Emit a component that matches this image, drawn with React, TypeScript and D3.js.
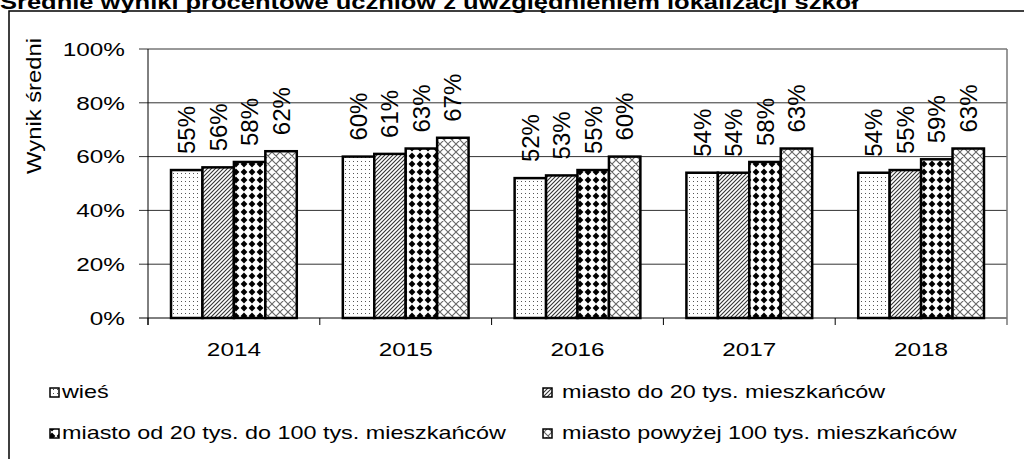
import React from 'react';
import * as d3 from 'd3';

const title = 'Średnie wyniki procentowe uczniów z uwzględnieniem lokalizacji szkół';
const yTitle = 'Wynik średni';
const years = ['2014', '2015', '2016', '2017', '2018'];
const seriesNames = [
  'wieś',
  'miasto do 20 tys. mieszkańców',
  'miasto od 20 tys. do 100 tys. mieszkańców',
  'miasto powyżej 100 tys. mieszkańców',
];
const wies = [55, 60, 52, 54, 54];
const do20 = [56, 61, 53, 54, 55];
const od20do100 = [58, 63, 55, 58, 59];
const pow100 = [62, 67, 60, 63, 63];
const yTicks = [0, 20, 40, 60, 80, 100];

const seriesValues = [wies, do20, od20do100, pow100];
const patternIds = ['pDots', 'pDiag', 'pDiam', 'pCross'];

const W = 1024;
const H = 459;
const FONT = 'Liberation Sans, Arial, sans-serif';
const SX = 1.28;
const SXL = 1.23;

export default function App() {
  const x0 = 148, x1 = 1007, yBottom = 318, yTop = 49;
  const x = d3.scaleBand<string>().domain(years).range([x0, x1]).paddingInner(0.268).paddingOuter(0.134);
  const step = (x1 - x0) / years.length;
  const xs = d3.scaleBand<number>().domain(d3.range(seriesNames.length)).range([0, x.bandwidth()]).padding(0);
  const y = d3.scaleLinear().domain([0, 100]).range([yBottom, yTop]);

  const legendPos = [
    { lx: 50, ly: 388, tx: 62, ty: 398 },
    { lx: 543, ly: 388, tx: 562, ty: 398 },
    { lx: 50, ly: 429, tx: 62, ty: 439 },
    { lx: 543, ly: 429, tx: 562, ty: 439 },
  ];

  return (
    <svg width={W} height={H} style={{ position: 'absolute', left: 0, top: 0, background: '#fff' }} fontFamily={FONT}>
      <defs>
        <pattern id="pDots" width="4" height="4" patternUnits="userSpaceOnUse">
          <rect width="4" height="4" fill="#fff" />
          <rect x="1" y="1" width="1" height="1" fill="#555" />
        </pattern>
        <pattern id="pDiag" width="4" height="4" patternUnits="userSpaceOnUse">
          <rect width="4" height="4" fill="#fff" />
          <path d="M-1,1 L1,-1 M0,4 L4,0 M3,5 L5,3" stroke="#333" strokeWidth="1.1" />
        </pattern>
        <pattern id="pDiam" width="8" height="8" patternUnits="userSpaceOnUse">
          <rect width="8" height="8" fill="#fff" />
          <polygon points="4,0.6 7.4,4 4,7.4 0.6,4" fill="#000" />
        </pattern>
        <pattern id="pCross" width="8" height="8" patternUnits="userSpaceOnUse">
          <rect width="8" height="8" fill="#fff" />
          <path d="M0,0 L8,8 M8,0 L0,8 M-1,7 L1,9 M7,-1 L9,1 M-1,1 L1,-1 M7,9 L9,7" stroke="#666" strokeWidth="1.1" />
        </pattern>
      </defs>

      {/* title */}
      <text transform={`translate(0,9) scale(1.25,1)`} fontSize={20.4} fontWeight="bold" fill="#000">{title}</text>

      {/* frame */}
      <rect x={9} y={11} width={1100} height={600} fill="none" stroke="#000" strokeWidth={1.5} />

      {/* grid lines + left ticks */}
      {yTicks.map((t) => (
        <line key={'g' + t} x1={139} x2={x1} y1={y(t)} y2={y(t)} stroke={t === 0 ? '#000' : '#333'} strokeWidth={1} />
      ))}
      {yTicks.map((t) => (
        <text key={'tl' + t} transform={`translate(125,${y(t) + 6.8}) scale(${SX},1)`} fontSize={19} textAnchor="end" fill="#000">{t}%</text>
      ))}
      {/* axis lines */}
      <line x1={x0} x2={x0} y1={yTop} y2={yBottom + 7} stroke="#000" strokeWidth={1} />
      <line x1={x1} x2={x1} y1={yTop} y2={yBottom + 7} stroke="#777" strokeWidth={1.5} />
      {years.map((yr, i) => (
        <line key={'ct' + yr} x1={x0 + step * i} x2={x0 + step * i} y1={yBottom} y2={yBottom + 7} stroke="#000" strokeWidth={1} />
      ))}

      {/* bars */}
      {years.map((yr, i) => (
        <g key={'bars' + yr}>
          {seriesValues.map((vals, s) => {
            const bx = (x(yr) ?? 0) + (xs(s) ?? 0);
            return (
              <rect key={s} x={bx} y={y(vals[i])} width={xs.bandwidth()} height={yBottom - y(vals[i])}
                fill={`url(#${patternIds[s]})`} stroke="#000" strokeWidth={2.5} />
            );
          })}
        </g>
      ))}

      {/* data labels */}
      {years.map((yr, i) => (
        <g key={'lab' + yr}>
          {seriesValues.map((vals, s) => {
            const cx = (x(yr) ?? 0) + (xs(s) ?? 0) + xs.bandwidth() / 2;
            return (
              <text key={s} transform={`translate(${cx + 8.5},${y(vals[i]) - 16}) rotate(-90)`} fontSize={24} fill="#000">{vals[i]}%</text>
            );
          })}
        </g>
      ))}

      {/* x labels */}
      {years.map((yr) => (
        <text key={'xl' + yr} transform={`translate(${(x(yr) ?? 0) + x.bandwidth() / 2},356) scale(${SX},1)`} fontSize={19} textAnchor="middle" fill="#000">{yr}</text>
      ))}

      {/* y title */}
      <text transform={`translate(41,106) rotate(-90) scale(1.22,1)`} fontSize={19.5} textAnchor="middle" fill="#000">{yTitle}</text>

      {/* legend */}
      {seriesNames.map((n, s) => {
        const p = legendPos[s];
        return (
          <g key={'lg' + s}>
            <rect x={p.lx} y={p.ly} width={9} height={9} fill={`url(#${patternIds[s]})`} stroke="#000" strokeWidth={1.5} />
            <text transform={`translate(${p.tx},${p.ty}) scale(${SXL},1)`} fontSize={19} fill="#000">{n}</text>
          </g>
        );
      })}
    </svg>
  );
}
